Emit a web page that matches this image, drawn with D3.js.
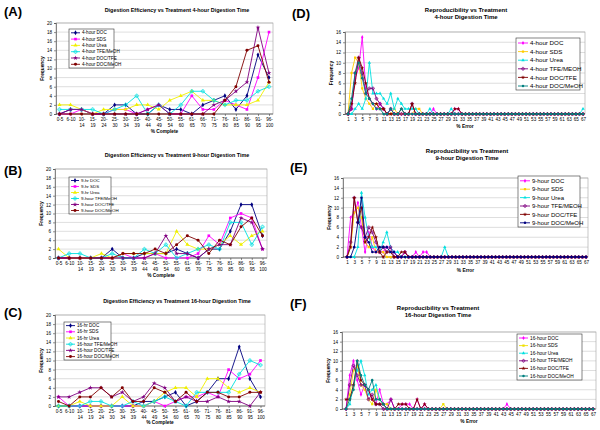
<!DOCTYPE html>
<html><head><meta charset="utf-8">
<script src="https://cdn.jsdelivr.net/npm/d3@7"></script>
<style>body{margin:0;background:#fff}svg{display:block}text{font-family:"Liberation Sans",Arial,sans-serif}</style>
</head><body><svg id="c" width="600" height="430"></svg>
<script>
// ---------- Efficiency charts (A-C) ----------
const effCats = ["0-5","6-10","10-14","15-19","20-24","25-30","30-34","35-39","40-44","45-49","50-54","55-60","61-65","66-70","71-75","76-80","81-85","86-90","91-95","96-100"];
const effYTicks = [0,2,4,6,8,10,12,14,16,18,20];

const a4DOC     = [0,1,1,0,0,2,2,0,0,2,1,1,0,2,3,4,1,4,13,8];
const a4SDS     = [0,0,1,0,0,1,1,0,1,2,0,0,4,1,1,3,2,1,8,18];
const a4Urea    = [2,2,1,0,1,1,1,2,2,1,3,4,5,3,3,2,2,2,3,7];
const a4TFE     = [1,1,1,1,0,1,2,4,0,2,0,2,5,5,3,2,3,3,5,6];
const a4DOCTFE  = [0,1,1,0,0,0,0,0,1,2,0,0,0,0,2,3,5,7,19,9];
const a4DOCMeOH = [0,0,0,0,0,0,0,0,0,0,0,0,0,0,0,3,6,14,15,7];

const b9DOC     = [0,0,0,0,0,2,0,0,1,1,1,2,1,0,2,2,6,12,12,5];
const b9SDS     = [0,0,0,0,0,0,1,0,0,1,0,0,0,1,5,3,9,10,9,2];
const b9Urea    = [2,0,0,0,1,0,1,1,1,1,1,6,3,2,2,3,5,3,5,6];
const b9TFE     = [0,1,1,0,0,1,0,0,2,1,3,0,1,2,3,2,8,8,3,7];
const b9DOCTFE  = [0,0,0,0,0,0,0,0,0,1,5,1,1,0,2,3,3,9,8,2];
const b9DOCMeOH = [0,0,0,0,0,0,1,1,1,2,1,3,5,4,1,4,3,7,9,5];

const c16DOC     = [0,0,0,0,0,0,0,0,1,1,2,3,0,1,3,6,6,13,6,2];
const c16SDS     = [2,0,0,0,0,0,0,0,0,1,0,1,2,2,3,2,8,6,7,10];
const c16Urea    = [0,0,1,0,0,0,2,0,0,1,3,4,4,2,6,6,4,3,4,3];
const c16TFE     = [0,0,0,1,1,0,0,1,0,1,2,1,0,3,3,3,3,7,10,9];
const c16DOCTFE  = [2,2,3,4,4,2,3,1,2,5,4,1,2,1,1,2,1,1,0,3];
const c16DOCMeOH = [1,0,2,2,4,2,4,1,1,4,3,1,3,1,3,3,2,2,3,3];

const aNames = ["4-hour DOC","4-hour SDS","4-hour Urea","4-hour TFE/MeOH","4-hour DOC/TFE","4-hour DOC/MeOH"];
const bNames = ["9-hr DOC","9-hr SDS","9-hr Urea","9-hour TFE/MeOH","9-hour DOC/TFE","9-hour DOC/MeOH"];
const cNames = ["16-hr DOC","16-hr SDS","16-hr Urea","16-hour TFE/MeOH","16-hour DOC/TFE","16-hour DOC/MeOH"];

// ---------- Reproducibility charts (D-F) ----------
const errCats = [1,2,3,4,5,6,7,8,9,10,11,12,13,14,15,16,17,18,19,20,21,22,23,24,25,26,27,28,29,30,31,32,33,34,35,36,37,38,39,40,41,42,43,44,45,46,47,48,49,50,51,52,53,54,55,56,57,58,59,60,61,62,63,64,65,66,67];
const errYTicks = [0,2,4,6,8,10,12,14,16];

const d4DOC     = [0,1,7,9,15,5,3,2,1,2, 1,0,1,0,0,0,0,0,0,0, 0,0,0,0,1,0,0,0,0,0, 1,1,0,0,0,0,0,0,0,0, 0,0,0,0,0,0,0,0,0,0, 0,0,0,0,0,0,0,0,0,0, 0,0,0,0,0,0,0];
const d4SDS     = [0,8,11,10,5,3,2,1,2,1, 1,0,0,1,0,0,0,0,0,1, 1,0,0,0,0,0,0,0,0,0, 0,0,0,0,0,0,0,0,0,0, 0,0,0,0,0,0,0,0,0,0, 0,0,0,0,0,0,0,0,0,0, 0,0,0,0,0,0,0];
const d4Urea    = [0,0,1,2,1,3,10,4,4,4, 3,2,4,1,3,2,1,1,1,1, 0,0,0,1,0,0,0,0,0,1, 0,0,0,0,0,0,0,0,0,0, 0,0,0,0,0,0,0,0,0,0, 0,0,0,0,0,0,0,0,0,0, 0,0,0,0,0,0,1];
const d4TFE     = [0,1,8,11,8,4,5,5,3,2, 1,0,1,0,0,0,0,0,2,0, 0,0,0,0,0,0,0,0,0,0, 0,0,0,0,0,0,0,0,0,0, 0,0,0,0,0,0,0,0,0,0, 0,0,0,0,0,0,0,0,0,0, 0,0,0,0,0,0,0];
const d4DOCTFE  = [0,2,6,11,9,6,3,2,2,1, 1,0,0,0,0,1,0,0,2,0, 0,0,0,0,0,0,0,0,0,0, 1,1,0,0,0,0,0,0,0,0, 0,0,0,0,0,0,0,0,0,0, 0,0,0,0,0,0,0,0,0,0, 0,0,0,0,0,0,0];
const d4DOCMeOH = [0,3,8,10,7,4,3,2,1,1, 0,0,1,0,0,1,0,0,0,0, 0,0,0,0,0,0,0,0,0,0, 0,0,0,0,0,0,0,0,0,0, 0,0,0,0,0,0,0,0,0,0, 0,0,0,0,0,0,0,0,0,0, 0,0,0,0,0,0,0];

const e9DOC     = [0,8,9,11,6,1,5,2,1,1, 1,2,2,1,0,0,1,0,0,1, 0,1,1,0,0,0,0,0,0,0, 0,0,0,0,0,0,0,0,0,0, 0,0,0,0,0,0,0,0,0,0, 0,0,0,0,0,0,0,0,0,0, 0,0,0,0,0,0,0];
const e9SDS     = [0,2,9,10,8,3,2,4,1,1, 1,0,0,0,0,0,0,0,0,0, 0,0,0,0,0,0,0,0,0,0, 0,0,0,0,0,0,0,0,0,0, 0,0,0,0,0,0,0,0,0,0, 0,0,0,0,0,0,0,0,0,0, 0,0,0,0,0,0,0];
const e9Urea    = [0,0,0,2,13,8,4,2,2,1, 3,5,2,1,1,0,0,0,0,0, 0,0,0,0,0,0,0,2,0,0, 0,0,0,0,0,0,0,0,0,0, 0,0,0,0,0,0,0,0,0,0, 0,0,0,0,0,0,0,0,0,0, 0,0,0,0,0,0,0];
const e9TFE     = [0,3,12,7,6,4,6,5,3,1, 2,1,2,0,0,0,1,0,0,0, 0,0,0,0,0,0,0,0,0,0, 0,0,0,0,0,0,0,0,0,0, 0,0,0,0,0,0,0,0,0,0, 0,0,0,0,0,0,0,0,0,0, 0,0,0,0,0,0,0];
const e9DOCTFE  = [0,2,12,7,10,3,4,6,4,1, 0,1,1,0,0,1,1,0,0,0, 0,0,0,0,0,0,0,0,0,0, 0,0,0,0,0,0,0,0,0,0, 0,0,0,0,0,0,0,0,0,0, 0,0,0,0,0,0,0,0,0,0, 0,0,0,0,0,0,0];
const e9DOCMeOH = [0,0,2,7,12,4,3,1,1,2, 2,2,1,1,0,0,0,0,0,0, 0,0,0,0,0,0,0,0,0,0, 0,0,0,0,0,0,0,0,0,0, 0,0,0,0,0,0,0,0,0,0, 0,0,0,0,0,0,0,0,0,0, 0,0,0,0,0,0,0];

const f16DOC     = [0,7,10,6,3,5,4,2,1,4, 1,1,2,0,0,1,1,1,0,2, 0,1,0,0,0,0,0,0,0,0, 0,0,0,0,0,0,0,0,0,0, 0,0,0,1,0,0,0,0,0,0, 0,0,0,0,0,0,0,0,0,0, 0,0,0,0,0,0,0];
const f16SDS     = [0,3,8,9,5,4,2,1,4,2, 1,1,0,0,0,0,0,0,0,0, 0,0,0,0,0,0,1,0,0,0, 0,0,0,0,0,0,0,0,0,0, 0,0,0,0,0,0,0,0,0,0, 0,0,0,0,0,0,0,0,0,0, 0,0,0,0,0,0,0];
const f16Urea    = [0,1,5,8,10,7,3,4,5,2, 1,0,0,0,0,0,0,0,0,0, 0,0,0,0,0,0,0,0,0,0, 0,0,0,0,0,0,0,0,0,0, 0,0,0,0,0,0,0,0,0,0, 0,0,0,0,0,0,0,0,0,0, 0,0,0,0,0,0,0];
const f16TFE     = [0,5,9,7,5,5,2,3,1,1, 0,0,2,0,0,0,0,0,0,0, 0,0,0,0,0,0,0,0,0,0, 0,0,0,0,0,0,0,0,0,0, 0,0,0,0,0,0,0,0,0,0, 0,0,0,0,0,0,0,0,0,0, 0,0,0,0,0,0,0];
const f16DOCTFE  = [2,2,5,10,6,5,4,2,1,1, 1,0,0,0,1,1,1,0,0,2, 0,1,0,0,0,0,0,0,0,0, 0,0,0,0,0,0,0,0,0,0, 0,0,0,0,0,0,0,0,0,0, 0,0,0,0,0,0,0,0,0,0, 0,0,0,0,0,0,0];
const f16DOCMeOH = [0,2,4,10,7,5,4,6,2,2, 1,0,0,0,0,0,0,0,0,0, 0,0,0,0,0,0,0,0,0,0, 0,0,0,0,0,0,0,0,0,0, 0,0,0,0,0,0,0,0,0,0, 0,0,0,0,0,0,0,0,0,0, 0,0,0,0,0,0,0];

const dNames = ["4-hour DOC","4-hour SDS","4-hour Urea","4-hour TFE/MEOH","4-hour DOC/TFE","4-hour DOC/MeOH"];
const eNames = ["9-hour DOC","9-hour SDS","9-hour Urea","9-hour TFE/MEOH","9-hour DOC/TFE","9-hour DOC/MeOH"];
const fNames = ["16-hour DOC","16-hour SDS","16-hour Urea","16-hour TFE/MEOH","16-hour DOC/TFE","16-hour DOC/MeOH"];

const effColors = ["#000080","#FF00FF","#F0F000","#00E0E0","#800080","#800000"];
const dColors = ["#FF00FF","#FFCC00","#00E0E0","#800080","#800000","#008080"];
const eColors = ["#FF00FF","#FFCC00","#00E0E0","#800080","#800000","#000080"];
const fColors = ["#FF00FF","#F0E000","#00E0E0","#800080","#800000","#008080"];
const effSymbols = [d3.symbolDiamond, d3.symbolSquare, d3.symbolTriangle, d3.symbolCross, d3.symbolStar, d3.symbolCircle];

const svg = d3.select("#c");
const FONT = '"Liberation Sans",Arial,sans-serif';

function panel(cfg) {
  const g = svg.append("g");
  const x = d3.scalePoint().domain(cfg.cats).range([cfg.xFirst, cfg.xLast]);
  const y = d3.scaleLinear().domain([0, cfg.yMax]).range([cfg.yBot, cfg.yTop]);
  // panel letter
  g.append("text").attr("x", cfg.lx).attr("y", cfg.ly).attr("font-size", 13).attr("font-weight", "bold").text(cfg.letter);
  // title
  cfg.title.forEach((t, i) => g.append("text").attr("x", cfg.tx).attr("y", cfg.ty + i * cfg.tLine)
    .attr("text-anchor", "middle").attr("font-size", cfg.tSize).attr("font-weight", "bold").text(t));
  // gridlines
  g.append("g").selectAll("line").data(cfg.yTicks).join("line")
    .attr("x1", cfg.x0).attr("x2", cfg.x1).attr("y1", d => y(d)).attr("y2", d => y(d))
    .attr("stroke", "#c8c8c8").attr("stroke-width", 0.6);
  // plot border
  g.append("rect").attr("x", cfg.x0).attr("y", cfg.yTop).attr("width", cfg.x1 - cfg.x0).attr("height", cfg.yBot - cfg.yTop)
    .attr("fill", "none").attr("stroke", "#a0a0a0").attr("stroke-width", 0.6);
  // y axis
  const ya = g.append("g").attr("transform", `translate(${cfg.x0},0)`)
    .call(d3.axisLeft(y).tickValues(cfg.yTicks).tickSize(2).tickPadding(2));
  ya.selectAll("text").attr("font-size", 4.6).attr("font-family", FONT);
  ya.selectAll("path,line").attr("stroke", "#444").attr("stroke-width", 0.6);
  // x axis
  const xa = g.append("g").attr("transform", `translate(0,${cfg.yBot})`)
    .call(d3.axisBottom(x).tickValues(cfg.xTickVals).tickSize(2).tickPadding(2));
  xa.select(".domain").attr("d", `M${cfg.x0},0H${cfg.x1}`);
  xa.selectAll("path,line").attr("stroke", "#444").attr("stroke-width", 0.6);
  xa.selectAll("text").attr("font-size", 4.6).attr("font-family", FONT).each(function (d) {
    const s = String(d);
    const t = d3.select(this);
    if (cfg.split && s.indexOf("-") > 0 && s.length > 4) {
      const p = s.split("-");
      t.text(null);
      t.append("tspan").attr("x", 0).text(p[0] + "-");
      t.append("tspan").attr("x", 0).attr("dy", "1.25em").text(p[1]);
    }
  });
  // axis titles
  g.append("text").attr("x", (cfg.x0 + cfg.x1) / 2).attr("y", cfg.xtY).attr("text-anchor", "middle")
    .attr("font-size", 4.8).attr("font-weight", "bold").text(cfg.xTitle);
  g.append("text").attr("transform", `translate(${cfg.ytX},${(cfg.yTop + cfg.yBot) / 2}) rotate(-90)`)
    .attr("text-anchor", "middle").attr("font-size", 4.8).attr("font-weight", "bold").text("Frequency");
  // series
  const line = d3.line().x((d, i) => x(cfg.cats[i])).y(d => y(d));
  cfg.series.forEach((vals, si) => {
    const sg = g.append("g");
    sg.append("path").datum(vals).attr("d", line).attr("fill", "none")
      .attr("stroke", cfg.colors[si]).attr("stroke-width", 0.9);
    sg.selectAll("path.m").data(vals).join("path").attr("class", "m")
      .attr("transform", (d, i) => `translate(${x(cfg.cats[i])},${y(d)})`)
      .attr("d", d3.symbol().type(effSymbols[si]).size(cfg.mSize))
      .attr("fill", effSymbols[si] === d3.symbolCross ? "none" : cfg.colors[si])
      .attr("stroke", cfg.colors[si]).attr("stroke-width", effSymbols[si] === d3.symbolCross ? 0.6 : 0);
  });
  // legend
  const L = cfg.legend;
  const lg = g.append("g");
  lg.append("rect").attr("x", L.x).attr("y", L.y).attr("width", L.w).attr("height", L.h)
    .attr("fill", "#fff").attr("stroke", "#333").attr("stroke-width", 0.6);
  cfg.names.forEach((n, i) => {
    const yy = L.y + L.pad + i * L.step;
    lg.append("line").attr("x1", L.x + 2).attr("x2", L.x + 2 + L.sw).attr("y1", yy).attr("y2", yy)
      .attr("stroke", cfg.colors[i]).attr("stroke-width", 0.9);
    lg.append("path").attr("transform", `translate(${L.x + 2 + L.sw / 2},${yy})`)
      .attr("d", d3.symbol().type(effSymbols[i]).size(cfg.mSize))
      .attr("fill", effSymbols[i] === d3.symbolCross ? "none" : cfg.colors[i])
      .attr("stroke", cfg.colors[i]).attr("stroke-width", effSymbols[i] === d3.symbolCross ? 0.6 : 0);
    lg.append("text").attr("x", L.x + 4 + L.sw).attr("y", yy).attr("dy", "0.35em")
      .attr("font-size", L.fs).text(n);
  });
}

const effOdd = effCats;
const errOdd = errCats.filter(v => v % 2 === 1);

panel({cats: effCats, xTickVals: effOdd, split: true, yMax: 20, yTicks: effYTicks,
  x0: 56, x1: 273, xFirst: 59.5, xLast: 269, yTop: 23, yBot: 114,
  letter: "(A)", lx: 4, ly: 16, title: ["Digestion Efficiency vs Treatment 4-hour Digestion Time"], tx: 177, ty: 12, tLine: 0, tSize: 5.4,
  xTitle: "% Complete", xtY: 133, ytX: 44, mSize: 7,
  series: [a4DOC, a4SDS, a4Urea, a4TFE, a4DOCTFE, a4DOCMeOH], names: aNames, colors: effColors,
  legend: {x: 69, y: 29, w: 45, h: 39, pad: 3.8, step: 6.3, sw: 9, fs: 4.6}});

panel({cats: effCats, xTickVals: effOdd, split: true, yMax: 20, yTicks: effYTicks,
  x0: 55, x1: 267, xFirst: 58.5, xLast: 262.5, yTop: 169, yBot: 258,
  letter: "(B)", lx: 4, ly: 175, title: ["Digestion Efficiency vs Treatment 9-hour Digestion Time"], tx: 177, ty: 157, tLine: 0, tSize: 5.4,
  xTitle: "% Complete", xtY: 277, ytX: 43, mSize: 7,
  series: [b9DOC, b9SDS, b9Urea, b9TFE, b9DOCTFE, b9DOCMeOH], names: bNames, colors: effColors,
  legend: {x: 69, y: 177, w: 42, h: 37, pad: 3.5, step: 6.0, sw: 8, fs: 4.4}});

panel({cats: effCats, xTickVals: effOdd, split: true, yMax: 20, yTicks: effYTicks,
  x0: 55, x1: 265, xFirst: 58.5, xLast: 260.5, yTop: 315, yBot: 406,
  letter: "(C)", lx: 4, ly: 317, title: ["Digestion Efficiency vs Treatment 16-hour Digestion Time"], tx: 177, ty: 303, tLine: 0, tSize: 5.4,
  xTitle: "% Complete", xtY: 424, ytX: 43, mSize: 7,
  series: [c16DOC, c16SDS, c16Urea, c16TFE, c16DOCTFE, c16DOCMeOH], names: cNames, colors: effColors,
  legend: {x: 64, y: 322, w: 47, h: 38, pad: 3.6, step: 6.2, sw: 9, fs: 4.6}});

panel({cats: errCats, xTickVals: errOdd, split: false, yMax: 16, yTicks: errYTicks,
  x0: 345, x1: 585, xFirst: 348, xLast: 583, yTop: 32, yBot: 114,
  letter: "(D)", lx: 292, ly: 18, title: ["Reproducibility vs Treatment", "4-hour Digestion Time"], tx: 466, ty: 12, tLine: 7, tSize: 6,
  xTitle: "% Error", xtY: 128, ytX: 333, mSize: 5,
  series: [d4DOC, d4SDS, d4Urea, d4TFE, d4DOCTFE, d4DOCMeOH], names: dNames, colors: dColors,
  legend: {x: 516, y: 38, w: 64, h: 52, pad: 5, step: 8.6, sw: 10, fs: 6.2}});

panel({cats: errCats, xTickVals: errOdd, split: false, yMax: 16, yTicks: errYTicks,
  x0: 343, x1: 588, xFirst: 347, xLast: 586, yTop: 178, yBot: 257,
  letter: "(E)", lx: 290, ly: 172, title: ["Reproducibility vs Treatment", "9-hour Digestion Time"], tx: 467, ty: 153, tLine: 6.5, tSize: 6,
  xTitle: "% Error", xtY: 272, ytX: 331, mSize: 5,
  series: [e9DOC, e9SDS, e9Urea, e9TFE, e9DOCTFE, e9DOCMeOH], names: eNames, colors: eColors,
  legend: {x: 518, y: 176, w: 62, h: 51, pad: 4.8, step: 8.4, sw: 10, fs: 6}});

panel({cats: errCats, xTickVals: errOdd, split: false, yMax: 16, yTicks: errYTicks,
  x0: 342, x1: 596, xFirst: 346, xLast: 593, yTop: 332, yBot: 409,
  letter: "(F)", lx: 290, ly: 308, title: ["Reproducibility vs Treatment", "16-hour Digestion Time"], tx: 438, ty: 310, tLine: 6.5, tSize: 6,
  xTitle: "% Error", xtY: 423, ytX: 330, mSize: 5,
  series: [f16DOC, f16SDS, f16Urea, f16TFE, f16DOCTFE, f16DOCMeOH], names: fNames, colors: fColors,
  legend: {x: 517, y: 334, w: 65, h: 46, pad: 4, step: 7.6, sw: 9, fs: 4.8}});
</script></body></html>
